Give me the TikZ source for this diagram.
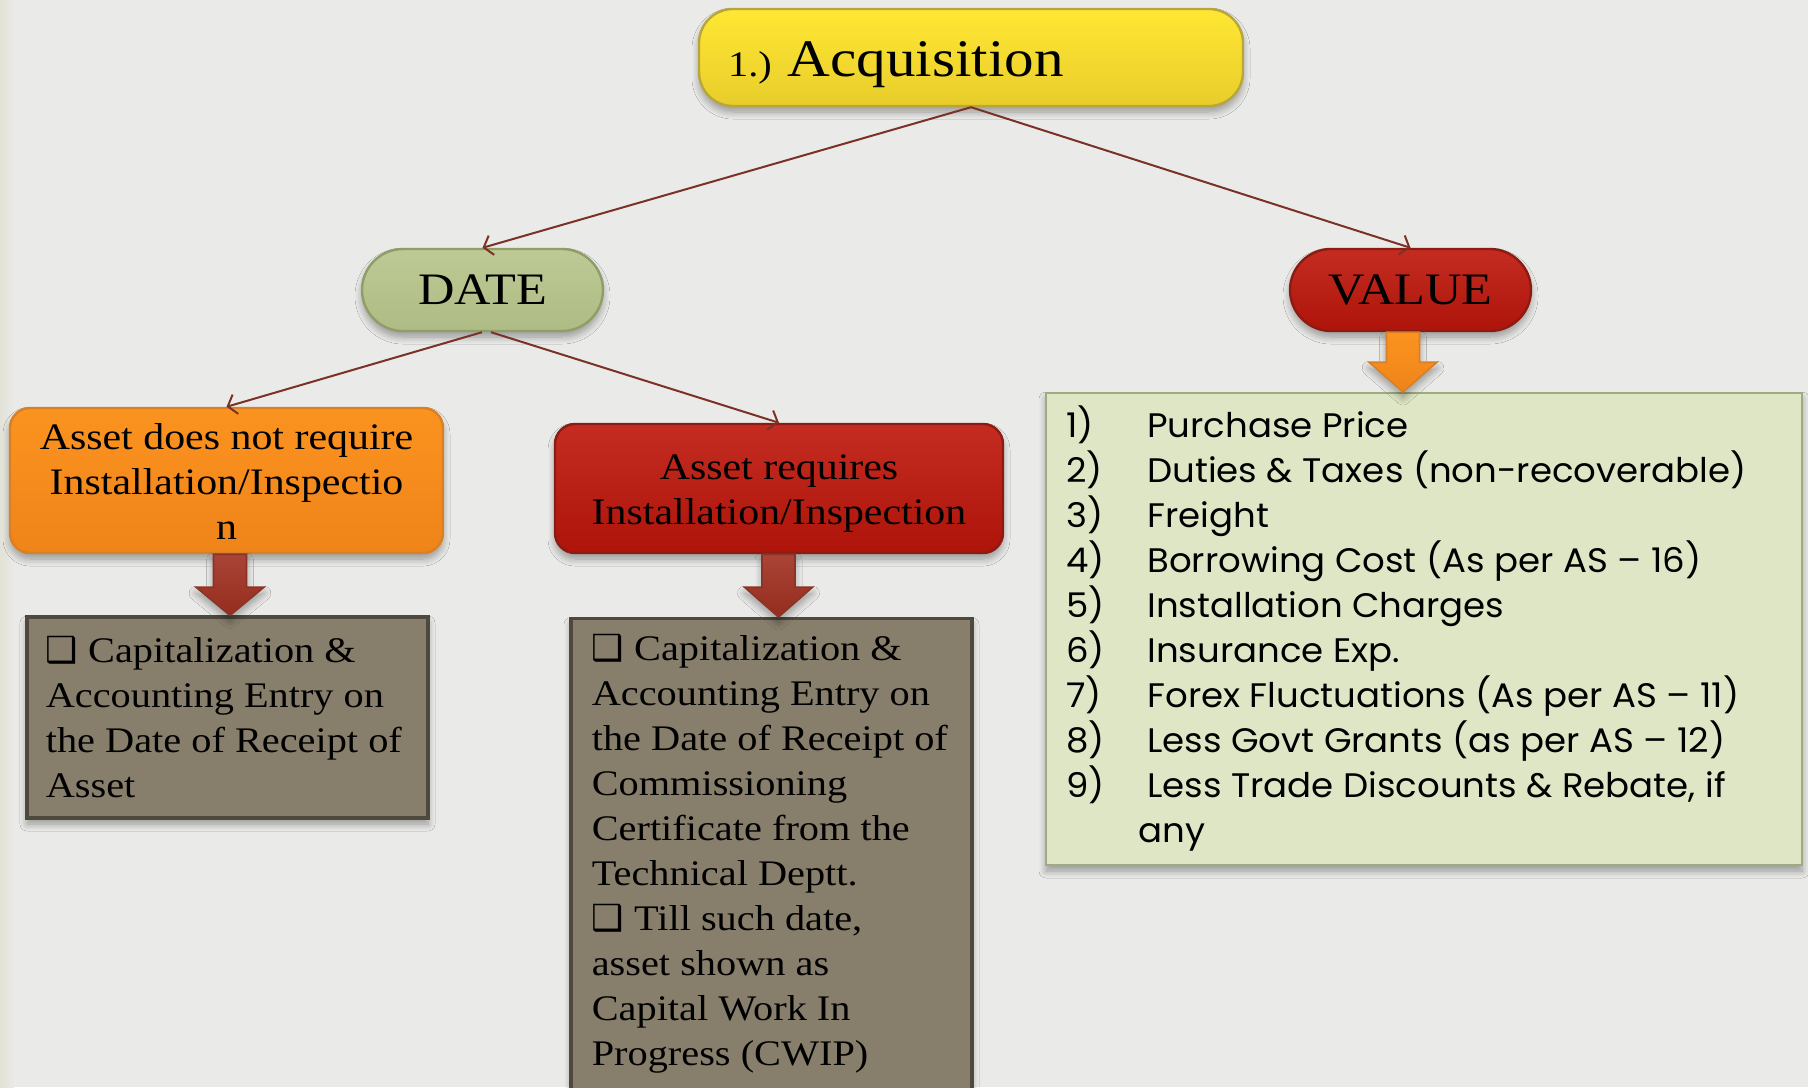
\documentclass[tikz,border=0pt]{standalone}
\usepackage{fontspec}
\setmainfont{Liberation Serif}[FakeStretch=1.12]
\newfontfamily\listfont{Poppins}[FakeStretch=1.045]
\newfontfamily\symfont{DejaVu Sans}
\usetikzlibrary{arrows.meta,shadows.blur,calc}

% one drawing unit
\newdimen\upx \upx=0.5pt

\definecolor{paper}{HTML}{EAEAE9}
\definecolor{paperedge}{HTML}{E2E2D6}
\definecolor{linkred}{HTML}{7B3126}
\definecolor{yelTop}{HTML}{FFE733}
\definecolor{yelBot}{HTML}{E8CD2B}
\definecolor{yelLine}{HTML}{B7A63C}
\definecolor{grnTop}{HTML}{BECA95}
\definecolor{grnBot}{HTML}{AFBB84}
\definecolor{grnLine}{HTML}{8F9D66}
\definecolor{redTop}{HTML}{C42C22}
\definecolor{redBot}{HTML}{AE1409}
\definecolor{redLine}{HTML}{8C1B12}
\definecolor{orgTop}{HTML}{FB931F}
\definecolor{orgBot}{HTML}{EF841A}
\definecolor{orgLine}{HTML}{D98026}
\definecolor{arrTop}{HTML}{AA4436}
\definecolor{arrBot}{HTML}{952D1E}
\definecolor{arrLine}{HTML}{8A3426}
\definecolor{stone}{HTML}{877F6C}
\definecolor{stoneLine}{HTML}{4D493D}
\definecolor{sage}{HTML}{DFE6C5}
\definecolor{sageLine}{HTML}{9DAC7E}

% block arrow pointing down from one node to another:
% #1 source node, #2 target node, #3 style, #4 x offset of the shaft, #5 shaft length
\newcommand\blockdown[5]{%
  \coordinate (ba-top) at ($(#1.south)+(#4,0)$);
  \draw[#3] ($(ba-top)+(-16.5,0)$) -- ($(ba-top)+(16.5,0)$)
    -- ($(ba-top)+(16.5,#5)$) -- ($(ba-top)+(34,#5)$)
    -- (ba-top |- #2.north)
    -- ($(ba-top)+(-34,#5)$) -- ($(ba-top)+(-16.5,#5)$) -- cycle;
}

\begin{document}
\begin{tikzpicture}[x=0.5pt,y=-0.5pt,
  softshadow/.style={blur shadow={shadow xshift=0pt,shadow yshift=-3pt,
      shadow blur steps=8,shadow blur radius=3.5pt,shadow opacity=35}},
  pillbox/.style={draw,line width=1.2pt,softshadow,inner sep=0pt,
      minimum width=241\upx,minimum height=82\upx,rounded corners=20.5pt,
      font=\fontsize{22.5}{26}\selectfont},
  greenpill/.style={pillbox,top color=grnTop,bottom color=grnBot,draw=grnLine},
  redpill/.style={pillbox,top color=redTop,bottom color=redBot,draw=redLine},
  casebox/.style={draw,line width=1.2pt,softshadow,inner sep=0pt,rounded corners=10pt},
  casetext/.style={inner sep=0pt,align=center,font=\fontsize{18.7}{22.5}\selectfont},
  stonebox/.style={draw=stoneLine,fill=stone,line width=1.6pt,softshadow,inner sep=0pt},
  stonetext/.style={inner sep=0pt,align=left,font=\fontsize{18}{22.5}\selectfont},
  conn/.style={draw=linkred,line width=1pt,-{Straight Barb[length=4pt,width=10pt]}},
  darkarrow/.style={draw=arrLine,line width=0.8pt,top color=arrTop,bottom color=arrBot,
      softshadow,line join=miter},
  orangearrow/.style={draw=orgLine,line width=0.8pt,top color=orgTop,bottom color=orgBot,
      softshadow,line join=miter},
]
% paper background
\fill[paper] (0,0) rectangle (1808,1087);
\shade[left color=paperedge,right color=paper] (0,0) rectangle (14,1087);
\useasboundingbox (0,0) rectangle (1808,1087);
\clip (0,0) rectangle (1808,1087);

% title
\node[draw=yelLine,line width=1.2pt,top color=yelTop,bottom color=yelBot,softshadow,
      inner sep=0pt,minimum width=544\upx,minimum height=97\upx,rounded corners=17pt,
      text height=49\upx,text depth=11\upx]
  (acq) at (971,57.5)
  {{\fontsize{18}{20}\selectfont 1.)}\hspace{16\upx}{\fontsize{26.4}{30}\selectfont Acquisition}\hspace*{150\upx}};

% second level
\node[greenpill] (date) at (482.5,290) {DATE};
\node[redpill] (value) at (1410.5,290) {VALUE};

% cases under DATE
\node[casebox,draw=orgLine,top color=orgTop,bottom color=orgBot,
      minimum width=433\upx,minimum height=145\upx] (nn) at (226.5,480.5) {};
\node[casetext] (nnt) at ($(nn.center)+(0,1)$)
  {Asset does not require\\Installation/Inspectio\\n};
\node[casebox,draw=redLine,top color=redTop,bottom color=redBot,
      minimum width=448\upx,minimum height=129\upx] (nr) at (779,488.5) {};
\node[casetext] (nrt) at ($(nr.center)+(0,5)$)
  {Asset requires\\Installation/Inspection};

% outcome boxes
\node[stonebox,minimum width=401\upx,minimum height=201\upx] (gl) at (227.5,717.5) {};
\node[stonetext,anchor=west] (glt) at ($(gl.west)+(20,0)$)
  {{\symfont ❑} Capitalization \&\\Accounting Entry on\\the Date of Receipt of\\Asset};
\node[stonebox,anchor=north,minimum width=401\upx,minimum height=520\upx] (gr) at (771.5,617) {};
\node[stonetext,anchor=north west] (grt) at ($(gr.north west)+(22,17)$)
  {{\symfont ❑} Capitalization \&\\Accounting Entry on\\the Date of Receipt of\\Commissioning\\Certificate from the\\Technical Deptt.\\{\symfont ❑} Till such date,\\asset shown as\\Capital Work In\\Progress (CWIP)};

% cost components
\node[draw=sageLine,fill=sage,line width=1pt,softshadow,inner sep=0pt,
      minimum width=756\upx,minimum height=472\upx] (vl) at (1424,629) {};
\node[inner sep=0pt,align=left,anchor=north west,font=\listfont\fontsize{17}{22.5}\selectfont]
  (vlt) at ($(vl.north west)+(21,13)$)
  {\makebox[81\upx][l]{1)}Purchase Price\\
   \makebox[81\upx][l]{2)}Duties \& Taxes (non-recoverable)\\
   \makebox[81\upx][l]{3)}Freight\\
   \makebox[81\upx][l]{4)}Borrowing Cost (As per AS – 16)\\
   \makebox[81\upx][l]{5)}Installation Charges\\
   \makebox[81\upx][l]{6)}Insurance Exp.\\
   \makebox[81\upx][l]{7)}Forex Fluctuations (As per AS – 11)\\
   \makebox[81\upx][l]{8)}Less Govt Grants (as per AS – 12)\\
   \makebox[81\upx][l]{9)}Less Trade Discounts \& Rebate, if\\
   \hspace*{72\upx}any};

% connectors
\draw[conn] (acq.south) -- (date.north);
\draw[conn] (acq.south) -- (value.north);
\draw[conn] ([xshift=-0.5\upx]date.south) -- (nn.north);
\draw[conn] ([xshift=8.5\upx]date.south) -- (nr.north);

% block arrows
\blockdown{nn}{gl}{darkarrow}{3.5}{33}
\blockdown{nr}{gr}{darkarrow}{-0.5}{33}
\blockdown{value}{vl}{orangearrow}{-7.5}{30}
\end{tikzpicture}
\end{document}
